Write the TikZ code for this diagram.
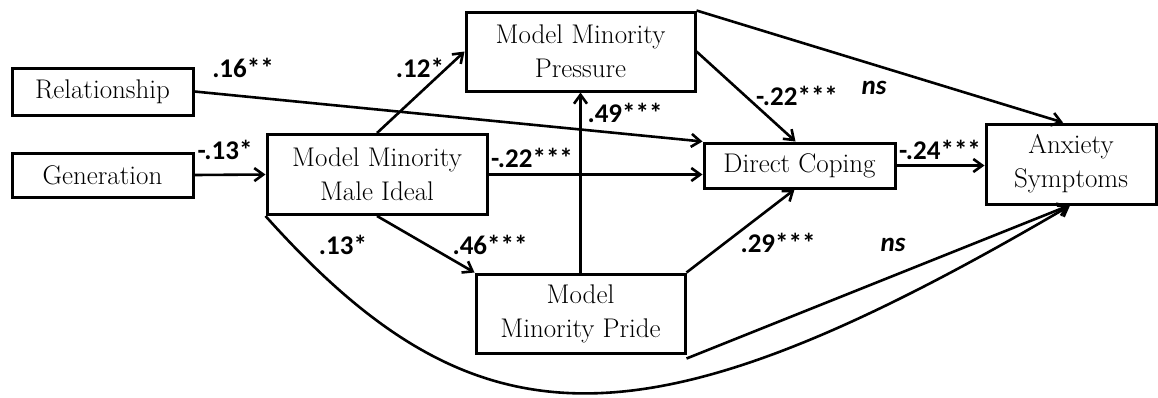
\documentclass[tikz,border=0pt]{standalone}
\usepackage{fontspec}
\newfontfamily\labelfont{Carlito}
\usetikzlibrary{arrows.meta}

\begin{document}
\begin{tikzpicture}[x=1pt,y=-1pt,
  var/.style={draw, fill=white, line width=3pt, align=center, inner sep=0pt,
    font=\fontsize{27}{34}\selectfont},
  effect/.style={line width=2.6pt,
    -{Straight Barb[length=9pt,width=13pt,line width=2.6pt]}},
  coef/.style={inner sep=0pt, font=\labelfont\bfseries\fontsize{27}{30}\selectfont},
  nslabel/.style={inner sep=0pt, font=\labelfont\bfseries\itshape\fontsize{27}{30}\selectfont}]

\useasboundingbox (0,0) rectangle (1158,397);

% variables
\node[var, minimum width=181pt, minimum height=47pt] (rel) at (102.5,91.5) {Relationship};
\node[var, minimum width=181pt, minimum height=44pt] (gen) at (102.5,175) {Generation};
\node[var, minimum width=220pt, minimum height=80pt] (male) at (377,174.5) {Model Minority\\Male Ideal};
\node[var, minimum width=229pt, minimum height=79pt] (press) at (580.5,51.5) {Model Minority\\Pressure};
\node[var, minimum width=191pt, minimum height=45pt] (cope) at (799.5,165.5) {Direct Coping};
\node[var, minimum width=170pt, minimum height=80pt] (anx) at (1071,164) {Anxiety\\Symptoms};
\node[var, minimum width=209pt, minimum height=79pt] (pride) at (580.5,313.5) {Model\\Minority Pride};

% paths
\draw[effect] (rel.east) -- (cope.north west);
\draw[effect] (gen.east) -- (male.west);
\draw[effect] (male.north) -- (press.west);
\draw[effect] (male.east) -- (male.east -| cope.west);
\draw[effect] (pride.north) -- (press.south);
\draw[effect] (press.east) -- ([xshift=-4pt]cope.north);
\draw[effect] (press.north east) -- ([xshift=-8pt]anx.north);
\draw[effect] (cope.east) -- (cope.east -| anx.west);
\draw[effect] (male.south) -- (pride.north west);
\draw[effect] (pride.north east) -- ([xshift=-5pt]cope.south);
\draw[effect] ([yshift=-4pt]pride.south east) -- ([xshift=-2pt]anx.south);
\draw[effect] (male.south west) .. controls (477,452) and (643,456) .. ([xshift=-1pt]anx.south);

% coefficients
\node[coef] (c1) at (243,68) {.16**};
\node[coef] (c2) at (225,150) {-.13*};
\node[coef] (c3) at (420,68) {.12*};
\node[coef] (c4) at (532,158) {-.22***};
\node[coef] (c5) at (625,113) {.49***};
\node[coef] (c6) at (797,96) {-.22***};
\node[nslabel] (c7) at (874,88) {ns};
\node[coef] (c8) at (940,150) {-.24***};
\node[coef] (c9) at (343,245) {.13*};
\node[coef] (c10) at (490,245) {.46***};
\node[coef] (c11) at (778,243) {.29***};
\node[nslabel] (c12) at (893,245) {ns};
\end{tikzpicture}
\end{document}
